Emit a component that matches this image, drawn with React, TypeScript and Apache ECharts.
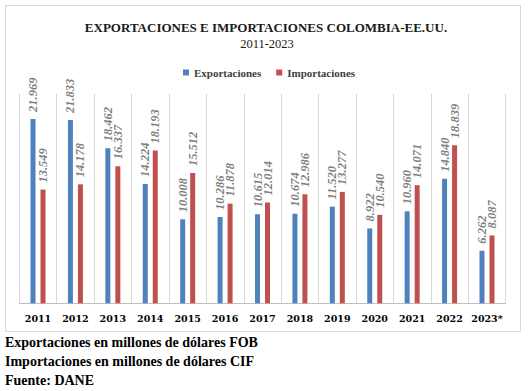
import React, { useEffect, useRef } from "react";
import * as echarts from "echarts";

const categories = ["2011", "2012", "2013", "2014", "2015", "2016", "2017", "2018", "2019", "2020", "2021", "2022", "2023*"];
const exportaciones = [21.969, 21.833, 18.462, 14.224, 10.008, 10.286, 10.615, 10.674, 11.52, 8.922, 10.96, 14.84, 6.262];
const importaciones = [13.549, 14.178, 16.337, 18.193, 15.512, 11.878, 12.014, 12.986, 13.277, 10.54, 14.071, 18.839, 8.087];
const seriesNames = ["Exportaciones", "Importaciones"];
const titleText = "EXPORTACIONES E IMPORTACIONES COLOMBIA-EE.UU.";
const subtitleText = "2011-2023";
const notes = [
  "Exportaciones en millones de dólares FOB",
  "Importaciones en millones de dólares CIF",
  "Fuente: DANE",
];

const SERIF = "Liberation Serif";

export default function App() {
  const ref = useRef<HTMLDivElement>(null);
  useEffect(() => {
    if (!ref.current) return;
    const chart = echarts.init(ref.current, null, { renderer: "svg" });
    const labelCfg = {
      show: true,
      position: "top",
      distance: 7,
      rotate: 90,
      align: "left",
      verticalAlign: "middle",
      color: "#7f7f7f",
      fontFamily: SERIF,
      fontStyle: "italic",
      fontWeight: "bold",
      fontSize: 12.5,
      formatter: (p: any) => Number(p.value).toFixed(3),
    };
    chart.setOption({
      animation: false,
      backgroundColor: "#ffffff",
      title: [
        {
          text: titleText,
          left: 261,
          textAlign: "center",
          top: 16,
          textStyle: { fontFamily: SERIF, fontWeight: "bold", fontSize: 13, color: "#1a1a1a" },
        },
        {
          text: subtitleText,
          left: 262,
          textAlign: "center",
          top: 32,
          textStyle: { fontFamily: SERIF, fontWeight: "normal", fontSize: 12.5, color: "#1a1a1a" },
        },
      ],
      legend: {
        data: seriesNames,
        left: 178,
        top: 62,
        itemWidth: 6,
        itemHeight: 6,
        itemGap: 15,
        icon: "rect",
        textStyle: { fontFamily: SERIF, fontWeight: "bold", fontSize: 11, color: "#404040" },
      },
      grid: { left: 19.3, right: 22.3, top: 93.5, bottom: 87.7, containLabel: false },
      xAxis: {
        type: "category",
        data: categories,
        axisLine: { show: true, lineStyle: { color: "#bfbfbf", width: 1 } },
        axisTick: { show: false },
        splitLine: { show: true, interval: 0, lineStyle: { color: "#d9d9d9", width: 1 } },
        axisLabel: {
          interval: 0,
          margin: 10,
          fontFamily: "DejaVu Serif",
          fontWeight: "bold",
          fontSize: 9.5,
          color: "#000000",
        },
      },
      yAxis: { type: "value", min: 0, max: 25, show: false, splitLine: { show: false } },
      series: [
        {
          name: seriesNames[0],
          type: "bar",
          data: exportaciones,
          barWidth: 5,
          barGap: "100%",
          itemStyle: { color: "#4f81bd" },
          label: labelCfg,
        },
        {
          name: seriesNames[1],
          type: "bar",
          data: importaciones,
          barWidth: 5,
          barGap: "100%",
          itemStyle: { color: "#c0504d" },
          label: labelCfg,
        },
      ],
      graphic: [
        {
          type: "rect",
          z: -1,
          shape: { x: 5.5, y: 5.5, width: 515, height: 326 },
          style: { fill: "none", stroke: "#d9d9d9", lineWidth: 1 },
        },
        ...notes.map((t, i) => ({
          type: "text",
          left: 5,
          top: 335 + i * 19,
          style: {
            text: t,
            font: `bold 14px "Liberation Serif"`,
            fill: "#000000",
          },
        })),
      ],
    });
    return () => chart.dispose();
  }, []);
  return (
    <div
      ref={ref}
      style={{ position: "absolute", left: 0, top: 0, width: 528, height: 391, background: "#fff" }}
    />
  );
}
